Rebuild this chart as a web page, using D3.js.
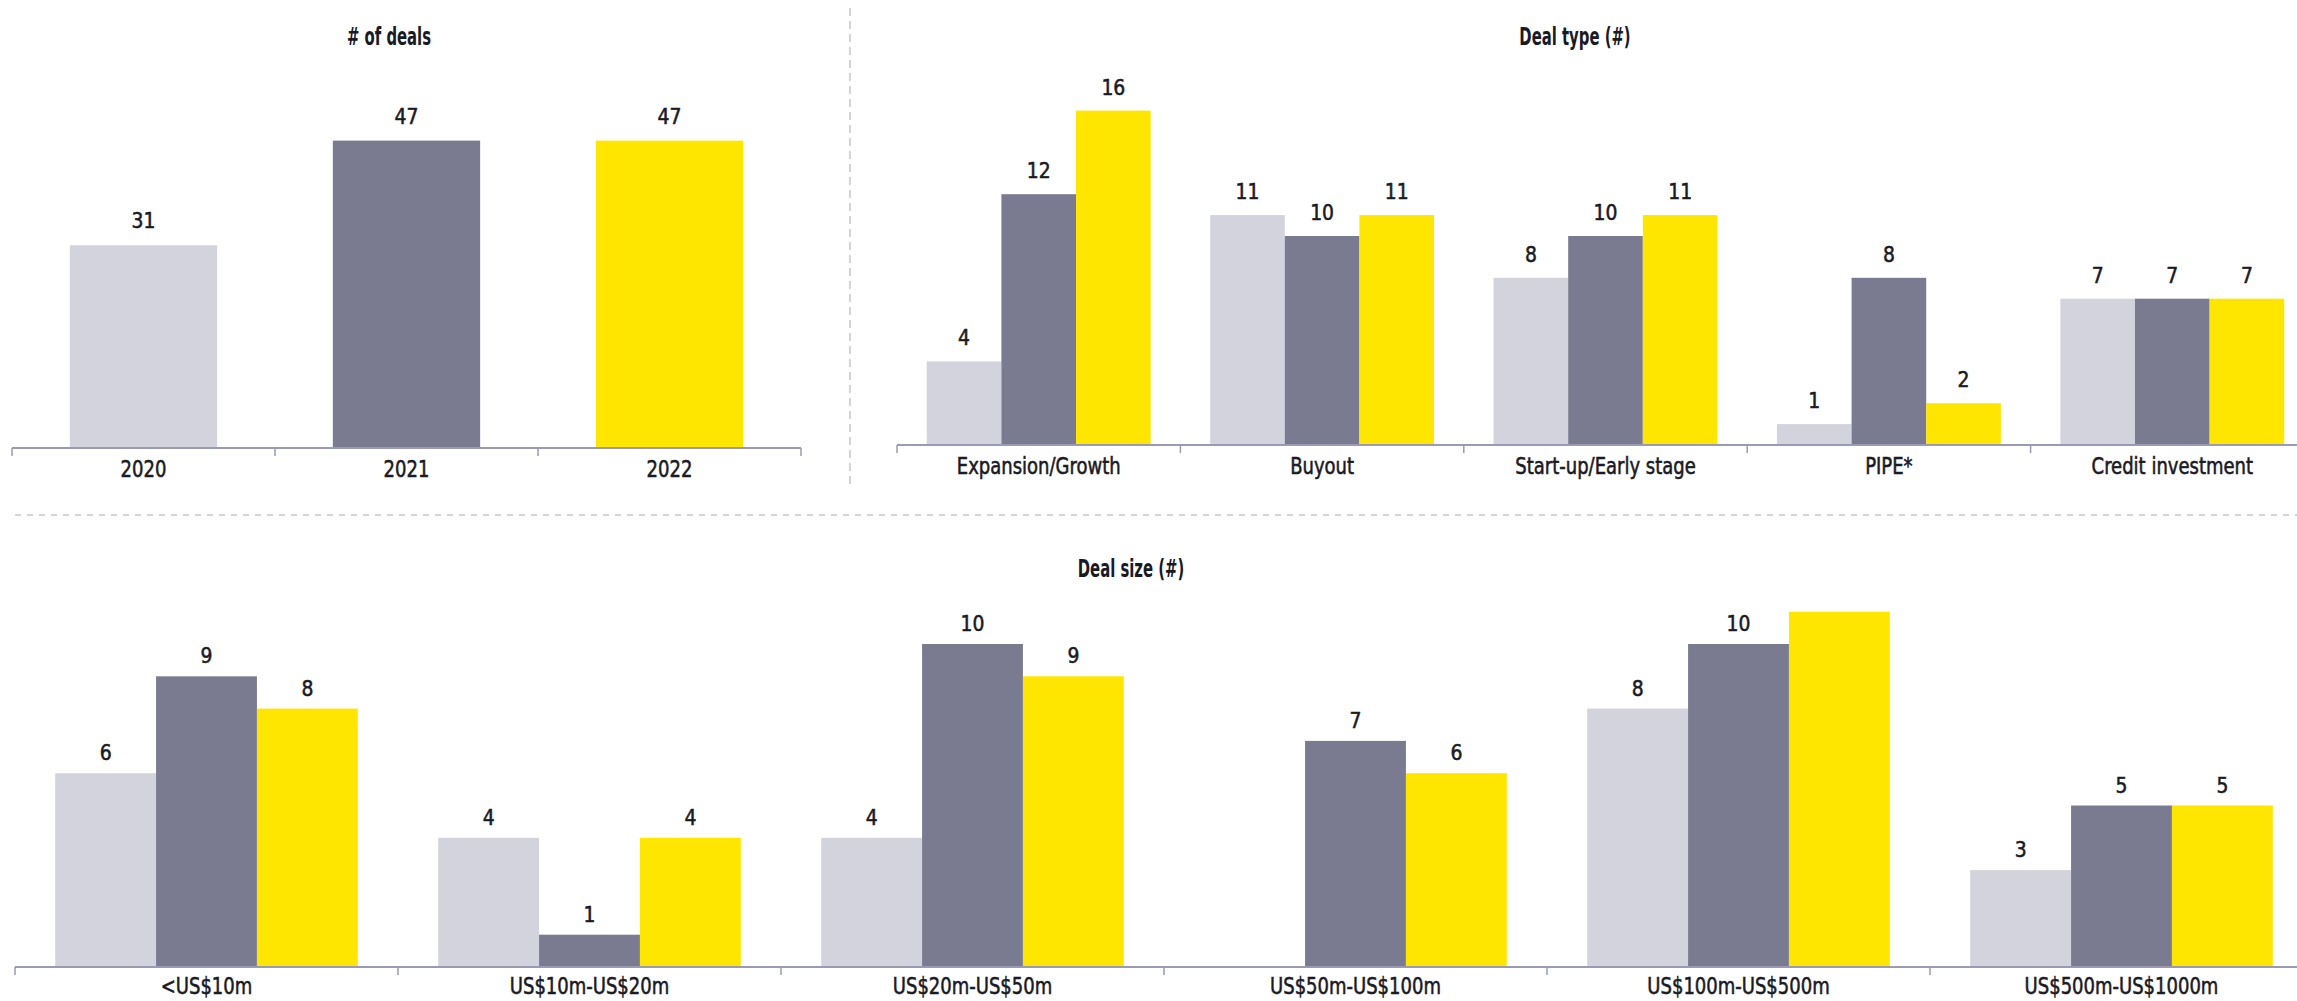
<!DOCTYPE html>
<html>
<head>
<meta charset="utf-8">
<script src="https://cdn.jsdelivr.net/npm/d3@7"></script>
<style>
  html, body { margin: 0; padding: 0; background: #fff; }
  svg { display: block; }
  text { font-family: "DejaVu Sans Condensed", "DejaVu Sans", sans-serif; font-stretch: condensed; fill: #1a1a24; }
  text.val, text.cat { stroke: #1a1a24; stroke-width: 0.55px; }
</style>
</head>
<body>
<svg id="chart" width="2297" height="1001"></svg>
<script>
// ---------- DATA ----------
const years = ["2020", "2021", "2022"];
const dealCounts = [31, 47, 47];

const dealTypes = ["Expansion/Growth", "Buyout", "Start-up/Early stage", "PIPE*", "Credit investment"];
const dealType2020 = [4, 11, 8, 1, 7];
const dealType2021 = [12, 10, 10, 8, 7];
const dealType2022 = [16, 11, 11, 2, 7];

const dealSizes = ["<US$10m", "US$10m-US$20m", "US$20m-US$50m", "US$50m-US$100m", "US$100m-US$500m", "US$500m-US$1000m"];
const dealSize2020 = [6, 4, 4, 0, 8, 3];
const dealSize2021 = [9, 1, 10, 7, 10, 5];
const dealSize2022 = [8, 4, 9, 6, 11, 5];
// value labels that are not printed in the source (series, category)
const hiddenLabels = [["2022", "US$100m-US$500m"]];

const titles = ["# of deals", "Deal type (#)", "Deal size (#)"];

// ---------- STYLE ----------
const colors = { "2020": "#D2D3DC", "2021": "#7A7A91", "2022": "#FFE600" };
const axisColor = "#9A9AB2";
const sepColor = "#D3D3DC";
const valueFont = 22, catFont = 23, titleFont = 25;
const valueScale = 0.95, textScale = 0.87, titleScale = 0.66;

const svg = d3.select("#chart");

// helper: condensed text placed via transform
function place(sel, fx, fy, sx) {
  return sel.attr("transform", (d, i) => `translate(${fx(d, i)},${fy(d, i)}) scale(${sx},1)`);
}

// separators
svg.append("line").attr("x1", 850).attr("x2", 850).attr("y1", 8).attr("y2", 488)
  .attr("stroke", sepColor).attr("stroke-width", 2).attr("stroke-dasharray", "8,5");
svg.append("line").attr("x1", 15).attr("x2", 2297).attr("y1", 515).attr("y2", 515)
  .attr("stroke", sepColor).attr("stroke-width", 2).attr("stroke-dasharray", "6,6");

function drawAxis(g, xOuter, y0, labelOffset) {
  const [r0, r1] = xOuter.range();
  g.append("line").attr("x1", r0).attr("x2", r1).attr("y1", y0).attr("y2", y0)
    .attr("stroke", axisColor).attr("stroke-width", 2);
  const last = xOuter.domain()[xOuter.domain().length - 1];
  const bounds = xOuter.domain().map(c => xOuter(c)).concat([xOuter(last) + xOuter.bandwidth()]);
  g.selectAll("line.tick").data(bounds).join("line").attr("class", "tick")
    .attr("x1", d => d).attr("x2", d => d).attr("y1", y0).attr("y2", y0 + 8)
    .attr("stroke", axisColor).attr("stroke-width", 1.5);
  place(g.selectAll("text.cat").data(xOuter.domain()).join("text").attr("class", "cat"),
    d => xOuter(d) + xOuter.bandwidth() / 2, () => y0 + labelOffset, textScale)
    .attr("text-anchor", "middle").attr("font-size", catFont)
    .text(d => d);
}

function addTitle(x, y, t) {
  svg.append("text").attr("transform", `translate(${x},${y}) scale(${titleScale},1)`)
    .attr("text-anchor", "middle").attr("font-size", titleFont).attr("font-weight", "bold").text(t);
}

// ---------- Panel 1: # of deals ----------
{
  const g = svg.append("g");
  const xOuter = d3.scaleBand().domain(years).range([12, 801]);
  const x = d3.scaleBand().domain(years).range([12, 801]).paddingInner(0.44).paddingOuter(0.22);
  const y = d3.scaleLinear().domain([0, 60]).range([448, 55.6]);
  const data = years.map((yr, i) => ({ yr, v: dealCounts[i] }));
  g.selectAll("rect").data(data).join("rect")
    .attr("x", d => x(d.yr)).attr("width", x.bandwidth())
    .attr("y", d => y(d.v)).attr("height", d => y(0) - y(d.v))
    .attr("fill", d => colors[d.yr]);
  place(g.selectAll("text.val").data(data).join("text").attr("class", "val"),
    d => x(d.yr) + x.bandwidth() / 2, d => y(d.v) - 17, valueScale)
    .attr("text-anchor", "middle").attr("font-size", valueFont).text(d => d.v);
  drawAxis(g, xOuter, 448, 29);
  addTitle(389, 45, titles[0]);
}

function groupedPanel(cats, seriesVals, range, yDomain, yRange, labelGap, labelOffset) {
  const g = svg.append("g");
  const xOuter = d3.scaleBand().domain(cats).range(range);
  const bw = xOuter.bandwidth();
  const xSub = d3.scaleBand().domain(years).range([bw * 0.105, bw * 0.895]);
  const y = d3.scaleLinear().domain(yDomain).range(yRange);
  const data = [];
  cats.forEach((c, ci) => years.forEach((yr, si) => data.push({ c, yr, v: seriesVals[si][ci] })));
  g.selectAll("rect").data(data.filter(d => d.v > 0)).join("rect")
    .attr("x", d => xOuter(d.c) + xSub(d.yr)).attr("width", xSub.bandwidth())
    .attr("y", d => y(d.v)).attr("height", d => y(0) - y(d.v))
    .attr("fill", d => colors[d.yr]);
  const isHidden = d => hiddenLabels.some(h => h[0] === d.yr && h[1] === d.c);
  place(g.selectAll("text.val").data(data.filter(d => d.v > 0 && !isHidden(d))).join("text").attr("class", "val"),
    d => xOuter(d.c) + xSub(d.yr) + xSub.bandwidth() / 2, d => y(d.v) - labelGap, valueScale)
    .attr("text-anchor", "middle").attr("font-size", valueFont).text(d => d.v);
  drawAxis(g, xOuter, yRange[0], labelOffset);
}

// ---------- Panel 2: Deal type ----------
groupedPanel(dealTypes, [dealType2020, dealType2021, dealType2022],
  [897, 2314], [0, 20], [445, 27], 16, 29);
addTitle(1575, 45, titles[1]);

// ---------- Panel 3: Deal size ----------
groupedPanel(dealSizes, [dealSize2020, dealSize2021, dealSize2022],
  [15, 2313], [0, 12], [967, 579.4], 13, 27);
addTitle(1131, 577, titles[2]);
</script>
</body>
</html>
